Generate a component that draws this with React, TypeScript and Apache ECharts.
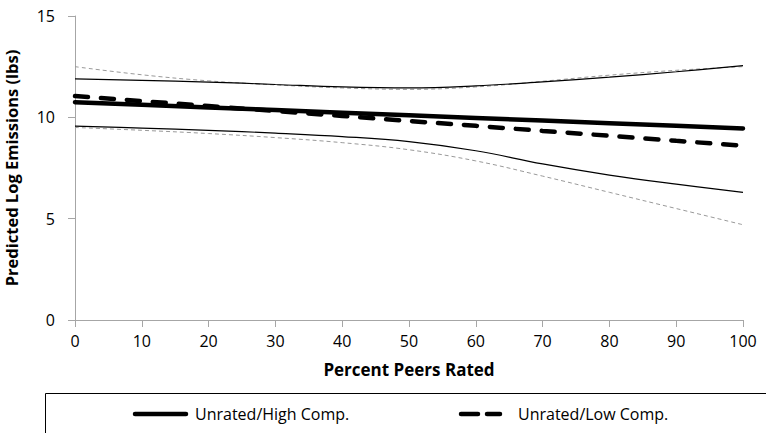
import React, { useEffect, useRef } from "react";
import * as echarts from "echarts";

const xValues = [0, 10, 20, 30, 40, 50, 60, 70, 80, 90, 100];
const highComp = [10.75, 10.62, 10.49, 10.36, 10.23, 10.1, 9.97, 9.84, 9.71, 9.58, 9.45];
const lowComp = [11.05, 10.8, 10.56, 10.31, 10.07, 9.82, 9.58, 9.33, 9.09, 8.84, 8.6];
const highUpper = [11.9, 11.82, 11.74, 11.62, 11.5, 11.45, 11.55, 11.75, 11.98, 12.25, 12.55];
const highLower = [9.57, 9.47, 9.36, 9.22, 9.05, 8.8, 8.35, 7.7, 7.15, 6.7, 6.3];
const lowUpper = [12.5, 12.1, 11.8, 11.6, 11.45, 11.38, 11.5, 11.78, 12.08, 12.32, 12.5];
const lowLower = [9.5, 9.36, 9.2, 9.0, 8.75, 8.4, 7.85, 7.1, 6.3, 5.5, 4.7];
const yTicks = [0, 5, 10, 15];
const legendNames = ["Unrated/High Comp.", "Unrated/Low Comp."];

const FONT = "Open Sans";

const pairs = (ys: number[]) => xValues.map((x, i) => [x, ys[i]]);

export default function App() {
  const ref = useRef<HTMLDivElement>(null);
  useEffect(() => {
    const chart = echarts.init(ref.current!, null, { renderer: "svg" });
    const thinSolid = { color: "#000", width: 1.2, type: "solid" as const };
    const greyDash = { color: "#999", width: 1, type: [4, 3] };
    const legendY = 414;
    const thick = { stroke: "#000", lineWidth: 4.5, lineCap: "round" as const };
    chart.setOption({
      animation: false,
      backgroundColor: "#fff",
      textStyle: { fontFamily: FONT },
      grid: {
        left: 75,
        right: 23,
        top: 16,
        bottom: 113,
        containLabel: false,
        outerBoundsMode: "none",
      },
      xAxis: {
        type: "value",
        min: 0,
        max: 100,
        interval: 10,
        name: "Percent Peers Rated",
        nameLocation: "middle",
        nameGap: 41,
        nameTextStyle: { fontFamily: FONT, fontWeight: "bold", fontSize: 17, color: "#000" },
        axisLine: { show: true, lineStyle: { color: "#a6a6a6", width: 1 } },
        axisTick: { show: true, length: 7, lineStyle: { color: "#a6a6a6" } },
        axisLabel: { color: "#000", fontSize: 16, fontFamily: FONT, margin: 13 },
        splitLine: { show: false },
      },
      yAxis: {
        type: "value",
        min: 0,
        max: 15,
        interval: 5,
        name: "Predicted Log Emissions (lbs)",
        nameLocation: "middle",
        nameRotate: 90,
        nameGap: 55,
        nameTextStyle: {
          fontFamily: FONT,
          fontWeight: "bold",
          fontSize: 16.5,
          color: "#000",
          lineHeight: 18,
        },
        axisLine: { show: true, lineStyle: { color: "#a6a6a6", width: 1 } },
        axisTick: { show: true, length: 7, lineStyle: { color: "#a6a6a6" } },
        axisLabel: {
          color: "#000",
          fontSize: 16,
          fontFamily: FONT,
          margin: 20,
          formatter: (v: number) => (yTicks.includes(v) ? String(v) : ""),
        },
        splitLine: { show: false },
      },
      graphic: [
        {
          type: "rect",
          shape: { x: 45.5, y: 393.5, width: 760, height: 80 },
          style: { fill: "none", stroke: "#000", lineWidth: 1 },
          silent: true,
          z: -1,
        },
        {
          type: "line",
          shape: { x1: 135, y1: legendY, x2: 186, y2: legendY },
          style: thick,
          silent: true,
        },
        {
          type: "text",
          x: 195,
          y: legendY,
          style: {
            text: legendNames[0],
            fontFamily: FONT,
            fontSize: 16,
            fill: "#000",
            verticalAlign: "middle",
            align: "left",
          },
          silent: true,
        },
        {
          type: "line",
          shape: { x1: 461, y1: legendY, x2: 478, y2: legendY },
          style: thick,
          silent: true,
        },
        {
          type: "line",
          shape: { x1: 487, y1: legendY, x2: 500, y2: legendY },
          style: thick,
          silent: true,
        },
        {
          type: "text",
          x: 518,
          y: legendY,
          style: {
            text: legendNames[1],
            fontFamily: FONT,
            fontSize: 16,
            fill: "#000",
            verticalAlign: "middle",
            align: "left",
          },
          silent: true,
        },
      ],
      series: [
        {
          name: "Upper High",
          type: "line",
          data: pairs(highUpper),
          smooth: 0.4,
          showSymbol: false,
          symbol: "none",
          lineStyle: thinSolid,
          z: 2,
        },
        {
          name: "Lower High",
          type: "line",
          data: pairs(highLower),
          smooth: 0.4,
          showSymbol: false,
          symbol: "none",
          lineStyle: thinSolid,
          z: 2,
        },
        {
          name: "Upper Low",
          type: "line",
          data: pairs(lowUpper),
          smooth: 0.4,
          showSymbol: false,
          symbol: "none",
          lineStyle: greyDash,
          z: 1,
        },
        {
          name: "Lower Low",
          type: "line",
          data: pairs(lowLower),
          smooth: 0.4,
          showSymbol: false,
          symbol: "none",
          lineStyle: greyDash,
          z: 1,
        },
        {
          name: legendNames[0],
          type: "line",
          data: pairs(highComp),
          showSymbol: false,
          symbol: "none",
          lineStyle: { color: "#000", width: 4.5, cap: "round" },
          z: 4,
        },
        {
          name: legendNames[1],
          type: "line",
          data: pairs(lowComp),
          showSymbol: false,
          symbol: "none",
          lineStyle: { color: "#000", width: 4.5, type: [13, 13], cap: "round" },
          z: 3,
        },
      ],
    });
    return () => chart.dispose();
  }, []);
  return <div ref={ref} style={{ width: 766, height: 433, position: "absolute", left: 0, top: 0 }} />;
}
